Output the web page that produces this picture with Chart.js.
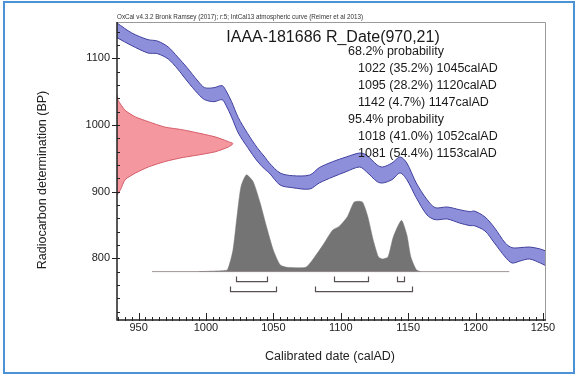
<!DOCTYPE html>
<html>
<head>
<meta charset="utf-8">
<script src="https://cdn.jsdelivr.net/npm/chart.js@4.4.1/dist/chart.umd.min.js"></script>
<style>
  html, body { margin: 0; padding: 0; background: #fff; }
  #wrap { position: relative; width: 579px; height: 376px; }
  #frame { position: absolute; left: 3px; top: 1px; width: 572px; height: 373px; border: 2px solid #4b93d6; box-sizing: border-box; pointer-events: none; }
  canvas { position: absolute; left: 0; top: 0; }
</style>
</head>
<body>
<div id="wrap">
  <canvas id="myChart" width="579" height="376"></canvas>
  <div id="frame"></div>
</div>
<script>
// IntCal13 curve band (calAD -> BP)
const calYears = [934, 945, 957, 964, 972, 979, 986, 994, 999, 1006, 1012, 1015, 1019, 1024, 1031, 1038, 1044, 1047, 1055, 1064, 1077, 1084, 1094, 1104, 1114, 1119, 1127, 1131, 1138, 1144, 1149, 1156, 1164, 1170, 1179, 1188, 1196, 1199, 1207, 1214, 1222, 1227, 1233, 1240, 1248, 1252];
const calUpper = [1153, 1138, 1128, 1126, 1117, 1102, 1086, 1066, 1056, 1056, 1059, 1051, 1035, 1011, 987, 966, 951, 943, 928, 924, 925, 936, 945, 952, 958, 955, 940, 937, 943, 952, 943, 913, 888, 876, 877, 873, 870, 871, 862, 846, 823, 816, 816, 817, 814, 811];
const calLower = [1131, 1119, 1108, 1107, 1099, 1084, 1066, 1047, 1038, 1035, 1038, 1029, 1012, 988, 966, 946, 933, 928, 910, 906, 904, 913, 922, 930, 937, 930, 915, 913, 918, 928, 918, 891, 865, 858, 859, 853, 849, 849, 841, 823, 802, 793, 796, 799, 793, 789];

// radiocarbon date R_Date(970,21), relative density
const rDateBP = [1045, 1037, 1022, 1012, 1005, 997, 993, 988, 982, 975, 972, 967, 960, 955, 951, 945, 937, 928, 918, 903, 895];
const rDateDensity = [0, 1, 7, 16, 27, 41, 56, 70, 85, 96, 100, 96, 85, 70, 56, 41, 27, 16, 7, 3, 0];

// calibrated distribution, relative probability
const calDates = [995, 1005, 1012, 1016, 1020, 1023, 1026, 1030, 1035, 1040, 1045, 1050, 1055, 1060, 1074, 1079, 1087, 1094, 1099, 1105, 1110, 1116, 1120, 1124, 1128, 1131, 1135, 1139, 1145, 1149, 1152, 1156, 1159];
const calProb = [0, 0.5, 1, 2, 22, 57, 88, 100, 93, 72, 46, 22, 7, 4.5, 4.5, 12, 28, 43, 47, 57, 72, 72, 57, 33, 15, 13, 15, 36, 53, 38, 15, 2, 0];
const plotSpan = [960, 1225];

const range68 = [[1022, 1045], [1095, 1120], [1142, 1147]];
const pct68 = [35.2, 28.2, 4.7];
const range95 = [[1018, 1052], [1081, 1153]];
const pct95 = [41.0, 54.4];

const xTicks = [950, 1000, 1050, 1100, 1150, 1200, 1250];
const yTicks = [800, 900, 1000, 1100];

const sampleName = 'IAAA-181686 R_Date(970,21)';
const headerText = 'OxCal v4.3.2 Bronk Ramsey (2017); r:5; IntCal13 atmospheric curve (Reimer et al 2013)';

const FONT = "'Liberation Sans', Arial, sans-serif";

const probLines = ['68.2% probability']
  .concat(range68.map((r, i) => r[0] + ' (' + pct68[i].toFixed(1) + '%) ' + r[1] + 'calAD'))
  .concat(['95.4% probability'])
  .concat(range95.map((r, i) => r[0] + ' (' + pct95[i].toFixed(1) + '%) ' + r[1] + 'calAD'));

const oxcalPlugin = {
  id: 'oxcal',
  afterDatasetsDraw(chart) {
    const {ctx, chartArea: a, scales} = chart;
    const xs = scales.x, ys = scales.y, y2 = scales.y2;
    ctx.save();
    // range brackets under the distribution
    const base = y2.getPixelForValue(0);
    ctx.strokeStyle = '#5a5252';
    ctx.lineWidth = 1.2;
    const bracket = (r, top, bot) => {
      const l = Math.round(xs.getPixelForValue(r[0])) + 0.5;
      const rr = Math.round(xs.getPixelForValue(r[1])) + 0.5;
      ctx.beginPath();
      ctx.moveTo(l, top); ctx.lineTo(l, bot); ctx.lineTo(rr, bot); ctx.lineTo(rr, top);
      ctx.stroke();
    };
    range68.forEach(r => bracket(r, base + 5, base + 10));
    range95.forEach(r => bracket(r, base + 15, base + 20));

    // frame
    ctx.strokeStyle = '#9a9a9a';
    ctx.lineWidth = 1;
    ctx.beginPath();
    ctx.moveTo(a.left, a.top + 0.5);
    ctx.lineTo(a.right + 0.5, a.top + 0.5);
    ctx.lineTo(a.right + 0.5, a.bottom);
    ctx.stroke();
    ctx.strokeStyle = '#222';
    ctx.lineWidth = 1.5;
    ctx.beginPath();
    ctx.moveTo(a.left, a.top);
    ctx.lineTo(a.left, a.bottom);
    ctx.lineTo(a.right + 1, a.bottom);
    ctx.stroke();

    // tick marks
    ctx.lineWidth = 1;
    ctx.beginPath();
    for (let v = Math.ceil(xs.min / 5) * 5; v <= xs.max; v += 5) {
      const px = Math.round(xs.getPixelForValue(v)) + 0.5;
      const len = v % 50 === 0 ? 7 : 3;
      ctx.moveTo(px, a.bottom + 1);
      ctx.lineTo(px, a.bottom - len);
    }
    for (let v = Math.ceil(ys.min / 20) * 20; v <= ys.max; v += 20) {
      const py = Math.round(ys.getPixelForValue(v)) + 0.5;
      if (v % 100 === 0) {
        ctx.moveTo(a.left - 5, py);
        ctx.lineTo(a.left + 3, py);
      } else {
        ctx.moveTo(a.left, py);
        ctx.lineTo(a.left + 3, py);
      }
    }
    ctx.stroke();
    ctx.restore();
  },
  afterDraw(chart) {
    const {ctx, chartArea: a} = chart;
    ctx.save();
    ctx.fillStyle = '#333';
    ctx.font = '6.3px ' + FONT;
    ctx.textBaseline = 'alphabetic';
    ctx.textAlign = 'left';
    ctx.fillText(headerText, a.left, a.top - 3);

    ctx.fillStyle = '#1a1a1a';
    ctx.font = '16px ' + FONT;
    ctx.textAlign = 'center';
    ctx.textBaseline = 'middle';
    ctx.fillText(sampleName, 333, 38);

    ctx.font = '12.5px ' + FONT;
    ctx.textAlign = 'left';
    probLines.forEach((t, i) => {
      const indent = t.indexOf('probability') > 0 ? 0 : 10;
      ctx.fillText(t, 348 + indent, 52 + i * 16.9);
    });

    ctx.fillStyle = '#222';
    ctx.font = '12.5px ' + FONT;
    ctx.textAlign = 'center';
    ctx.fillText('Calibrated date (calAD)', 330, 357);
    ctx.translate(43, 180);
    ctx.rotate(-Math.PI / 2);
    ctx.fillText('Radiocarbon determination (BP)', 0, 0);
    ctx.restore();
  }
};

const data = {
  datasets: [
    {
      label: 'IntCal13 upper',
      data: calYears.map((yr, i) => ({x: yr, y: calUpper[i]})),
      borderColor: '#40409e',
      borderWidth: 1,
      pointRadius: 0,
      tension: 0.3,
      fill: false
    },
    {
      label: 'IntCal13 lower',
      data: calYears.map((yr, i) => ({x: yr, y: calLower[i]})),
      borderColor: '#40409e',
      backgroundColor: '#8e8fdb',
      borderWidth: 1,
      pointRadius: 0,
      tension: 0.3,
      fill: '-1'
    },
    {
      label: 'R_Date',
      xAxisID: 'x2',
      data: rDateBP.map((bp, i) => ({x: rDateDensity[i], y: bp})),
      borderColor: '#d45a66',
      backgroundColor: '#f4979f',
      borderWidth: 1,
      pointRadius: 0,
      tension: 0.2,
      fill: 'shape'
    },
    {
      label: 'Calibrated',
      yAxisID: 'y2',
      data: calDates.map((d, i) => ({x: d, y: calProb[i]})),
      borderColor: '#747474',
      backgroundColor: '#747474',
      borderWidth: 0.5,
      pointRadius: 0,
      tension: 0.2,
      fill: 'origin'
    },
    {
      label: 'baseline',
      yAxisID: 'y2',
      data: plotSpan.map(d => ({x: d, y: 0})),
      borderColor: '#a09494',
      borderWidth: 1,
      pointRadius: 0,
      fill: false
    }
  ]
};

const config = {
  type: 'line',
  data: data,
  options: {
    responsive: false,
    animation: false,
    events: [],
    layout: { padding: { left: 0, top: 22, right: 34, bottom: 0 } },
    plugins: { legend: { display: false }, tooltip: { enabled: false } },
    scales: {
      x: {
        type: 'linear',
        position: 'bottom',
        min: 934,
        max: 1251.5,
        afterBuildTicks: s => { s.ticks = xTicks.map(v => ({value: v})); },
        afterFit: s => { s.height = 56; },
        grid: { display: false, drawTicks: false },
        border: { display: false },
        ticks: { color: '#222', font: { family: FONT, size: 11 }, padding: 1, maxRotation: 0, autoSkip: false, callback: v => String(v) }
      },
      y: {
        type: 'linear',
        position: 'left',
        min: 707.5,
        max: 1154.5,
        afterBuildTicks: s => { s.ticks = yTicks.map(v => ({value: v})); },
        afterFit: s => { s.width = 117; },
        grid: { display: false, drawTicks: false },
        border: { display: false },
        ticks: { color: '#222', font: { family: FONT, size: 11 }, padding: 7, callback: v => String(v) }
      },
      x2: { type: 'linear', axis: 'x', display: false, min: 0, max: 369 },
      y2: { type: 'linear', axis: 'y', display: false, min: -50, max: 258 }
    }
  },
  plugins: [oxcalPlugin]
};

var myChart = new Chart(document.getElementById('myChart'), config);
</script>
</body>
</html>
